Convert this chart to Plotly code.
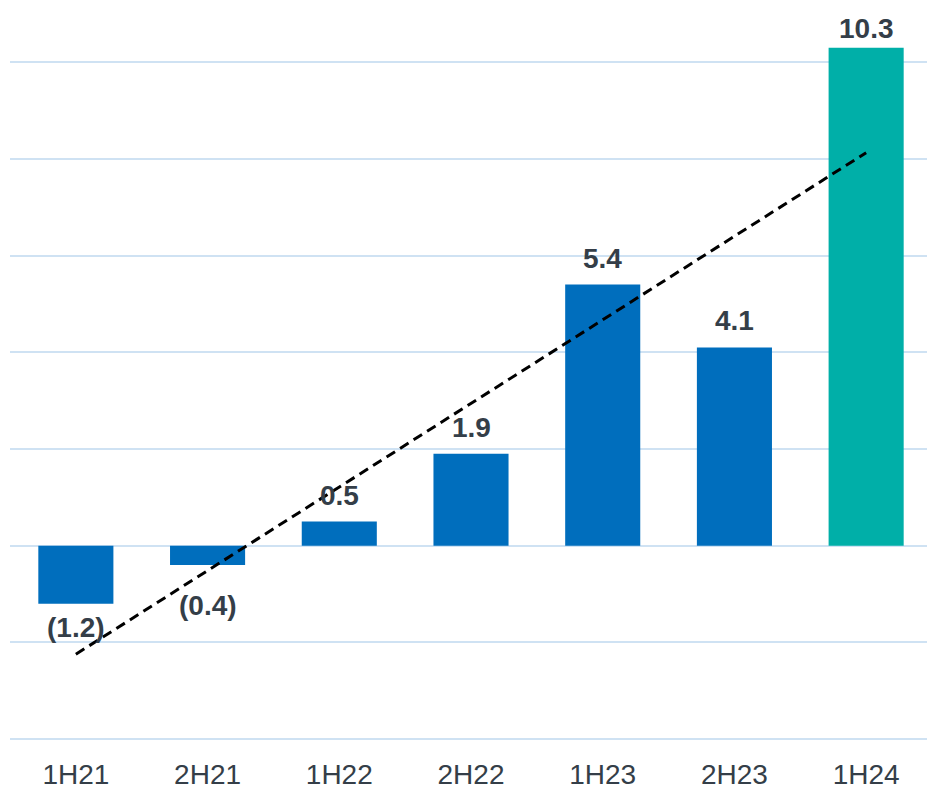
import numpy as np
import plotly.graph_objects as go

categories = ["1H21", "2H21", "1H22", "2H22", "1H23", "2H23", "1H24"]
values = [-1.2, -0.4, 0.5, 1.9, 5.4, 4.1, 10.3]
labels = ["(1.2)", "(0.4)", "0.5", "1.9", "5.4", "4.1", "10.3"]
bar_colors = ["#006EBD"] * 6 + ["#00AFA8"]

# label offsets in pixels from bar end (manual label placement in source)
label_gap = [7, 24, 10, 10, 10, 10, 3]

# linear trendline fitted to the series (as in the source chart)
xi = np.arange(len(values))
slope, intercept = np.polyfit(xi, values, 1)
trend = slope * xi + intercept

FONT = "Liberation Sans, Arial, sans-serif"
TXT = "#343E48"

fig = go.Figure()
fig.add_trace(go.Bar(
    x=categories, y=values, marker=dict(color=bar_colors, line=dict(width=0)),
    hoverinfo="skip", width=0.57,
))
fig.add_trace(go.Scatter(
    x=categories, y=trend, mode="lines",
    line=dict(color="black", width=3, dash="10px,6px"), hoverinfo="skip",
))

for c, v, t, g in zip(categories, values, labels, label_gap):
    pos = v >= 0
    fig.add_annotation(
        x=c, y=v, text="<b>%s</b>" % t, showarrow=False,
        yanchor="bottom" if pos else "top",
        yshift=g if pos else -g,
        font=dict(family=FONT, size=28, color=TXT),
        borderpad=0,
    )

fig.update_layout(
    width=935, height=796, showlegend=False,
    margin=dict(l=2, r=11, t=0, b=60),
    paper_bgcolor="white", plot_bgcolor="white",
    font=dict(family=FONT, color=TXT),
)
fig.update_xaxes(showgrid=False, showline=False, ticks="", automargin=False,
                 ticklabelstandoff=11,
                 tickfont=dict(size=28, color=TXT))
fig.update_yaxes(range=[-4.1, 11.12], dtick=2, tick0=0, showticklabels=False,
                 showgrid=True, gridcolor="#CFE2F3", gridwidth=2,
                 zeroline=True, zerolinecolor="#CFE2F3", zerolinewidth=2,
                 showline=False, ticks="", automargin=False)

fig.write_html("out.html")
